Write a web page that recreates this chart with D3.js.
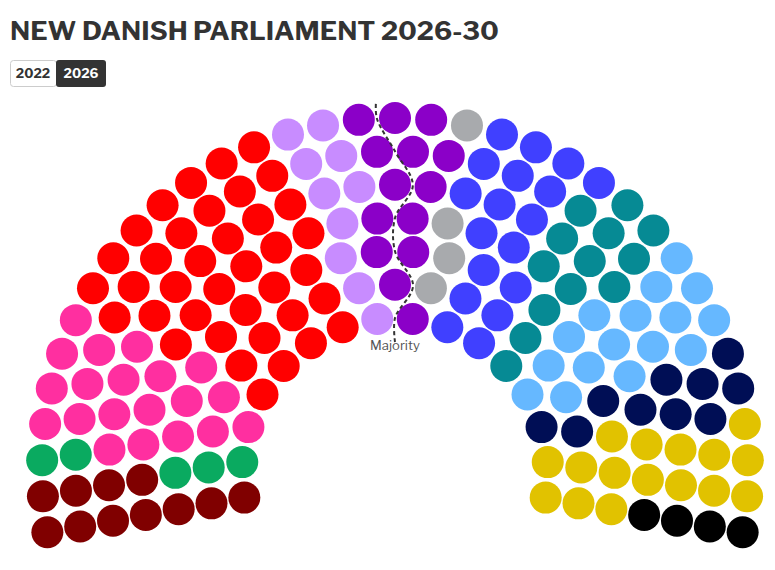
<!DOCTYPE html>
<html><head><meta charset="utf-8">
<script src="https://cdn.jsdelivr.net/npm/d3@7"></script>
<style>body{margin:0;background:#fff;font-family:"Libre Franklin","Roboto","Open Sans",sans-serif}</style>
</head><body>
<svg id="c" width="775" height="570"></svg>
<script>
const parties = ["A","B","C","D","E","F","G","H","I","J","K","L","M"];
const seats = [11,5,20,38,10,14,4,18,13,16,10,16,4];
const colors = ["#800000","#0aaa60","#ff2fa0","#ff0000","#c88cff","#8b00c8","#a8aaad","#4040ff","#068a94","#66b8ff","#000e55","#e1c200","#000000"];
const rowCounts = [16,19,22,26,29,32,35];
const majority = 90;

const svg = d3.select("#c");
svg.append("text").attr("x",10).attr("y",40).attr("font-size",26.6).attr("font-weight",700)
  .attr("fill","#333").text("NEW DANISH PARLIAMENT 2026-30");
const btn = svg.append("g");
btn.append("rect").attr("x",10.5).attr("y",60.5).attr("width",46).attr("height",26).attr("rx",3).attr("fill","#fff").attr("stroke","#ccc");
btn.append("rect").attr("x",56).attr("y",60).attr("width",50).attr("height",27).attr("rx",3).attr("fill","#333");
btn.append("text").attr("x",33).attr("y",78).attr("text-anchor","middle").attr("font-size",13).attr("font-weight",700).attr("fill","#333").text("2022");
btn.append("text").attr("x",81).attr("y",78).attr("text-anchor","middle").attr("font-size",13).attr("font-weight",700).attr("fill","#fff").text("2026");

const cx = 395, cy = 471;
const rScale = d3.scaleLinear().domain([0, rowCounts.length-1]).range([153, 353]);
const deg = Math.PI/180;
let all = [];
rowCounts.forEach((n,k)=>{
  const a = d3.scaleLinear().domain([0,n-1]).range([190*deg,-10*deg]);
  for(let i=0;i<n;i++) all.push({row:k, r:rScale(k), ang:a(i)});
});
all.sort((p,q)=> { const d = q.ang - p.ang; return Math.abs(d) > 1e-9 ? d : (p.r - q.r); });
const owner = [];
seats.forEach((s,i)=>{ for(let j=0;j<s;j++) owner.push(i); });
all.forEach((s,i)=>{ s.idx=i; s.party=owner[i]; s.x = cx + s.r*Math.cos(s.ang); s.y = cy - s.r*Math.sin(s.ang); });

svg.append("g").selectAll("circle").data(all).join("circle")
  .attr("cx",d=>d.x).attr("cy",d=>d.y).attr("r",16).attr("fill",d=>colors[d.party]);

const pts = [];
rowCounts.forEach((n,k)=>{
  const row = all.filter(s=>s.row===k).sort((p,q)=>q.ang-p.ang);
  const lastIn = row.filter(s=>s.idx<majority).pop();
  const firstOut = row.find(s=>s.idx>=majority);
  const ang = (lastIn.ang + firstOut.ang)/2;
  pts.push({r:rScale(k), ang});
});
const full = [{r:rScale(0)-24, ang:pts[0].ang}, ...pts, {r:rScale(rowCounts.length-1)+17, ang:pts[pts.length-1].ang}];
svg.append("path").attr("d", d3.line().x(d=>cx+d.r*Math.cos(d.ang)).y(d=>cy-d.r*Math.sin(d.ang)).curve(d3.curveCatmullRom)(full))
  .attr("fill","none").attr("stroke","#333").attr("stroke-width",2).attr("stroke-dasharray","4,3");
svg.append("text").attr("x",395).attr("y",350).attr("text-anchor","middle").attr("font-size",13).attr("fill","#555").text("Majority");
</script></body></html>
